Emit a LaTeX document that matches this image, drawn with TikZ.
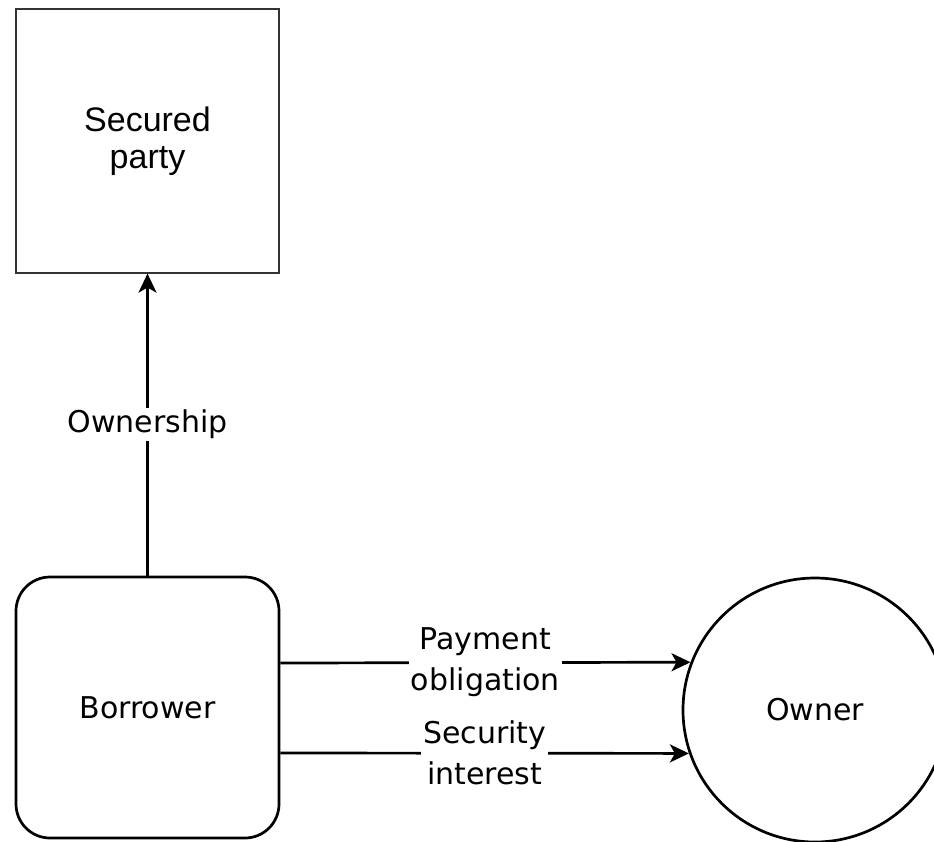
\documentclass[tikz,border=0pt]{standalone}
\usepackage{fontspec}
\usetikzlibrary{arrows.meta}
\newfontfamily\lblfont{DejaVu Sans}
\newfontfamily\arialfont{Liberation Sans}
\begin{document}
\begin{tikzpicture}[x=1pt,y=-1pt,
  conn/.style={line width=2.7pt,-{Stealth[length=19pt,width=18pt,inset=5pt]}},
  lab/.style={fill=white,inner sep=2pt,align=center,font=\lblfont\fontsize{30}{41}\selectfont},
  shapetext/.style={font=\lblfont\fontsize{30}{36}\selectfont}]
\clip (0,0) rectangle (934,841);
\fill[white] (0,0) rectangle (934,841);
\node[draw=black!80,line width=1.2pt,rectangle,minimum width=263pt,minimum height=264pt,inner sep=0pt,align=center,
      font=\arialfont\fontsize{34}{37}\selectfont] (secured) at (147.5,141) {Secured\\party};
\node[draw,line width=2.7pt,rectangle,rounded corners=34pt,minimum width=263pt,minimum height=261pt,inner sep=0pt,shapetext] (borrower) at (147.5,707.5) {Borrower};
\node[draw,line width=2.7pt,circle,minimum size=264pt,inner sep=0pt,shapetext] (owner) at (815,710) {Owner};
\draw[conn] (borrower.north) -- node[lab] {Ownership} (secured.south);
\draw[conn] ([yshift=44.5pt]borrower.east) -- node[lab] {Payment\\obligation} (owner.159.1);
\draw[conn] ([yshift=-45.5pt]borrower.east) -- node[lab] {Security\\interest} (owner.199);
\end{tikzpicture}
\end{document}
